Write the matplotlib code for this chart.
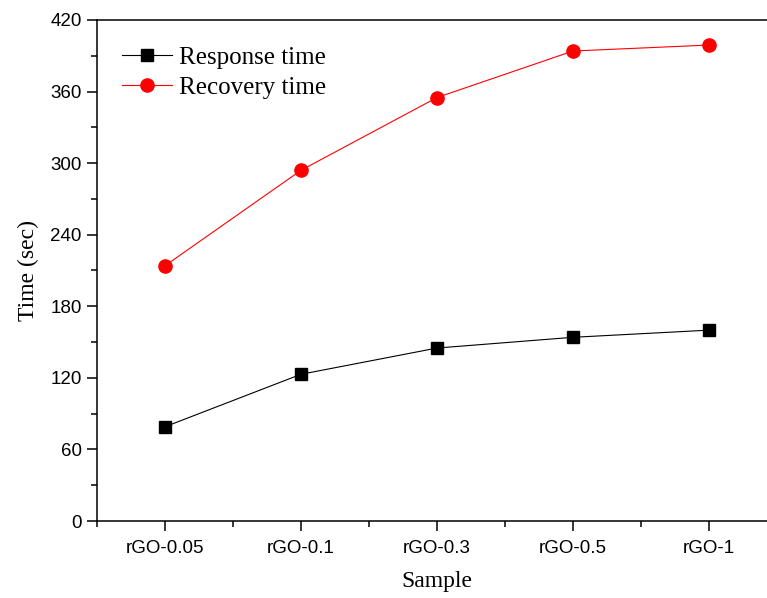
import matplotlib
matplotlib.use('Agg')
import matplotlib.pyplot as plt
from matplotlib.ticker import MultipleLocator

samples = ['rGO-0.05', 'rGO-0.1', 'rGO-0.3', 'rGO-0.5', 'rGO-1']
response_time = [79, 123, 145, 154, 160]
recovery_time = [214, 294, 355, 394, 399]

x = list(range(1, len(samples) + 1))

fig = plt.figure(figsize=(7.67, 5.98), dpi=100)
ax = fig.add_axes([97 / 767, 77 / 598, 680 / 767, 501 / 598])

ax.plot(x, response_time, color='black', lw=0.8, marker='s', ms=8.5,
        label='Response time')
ax.plot(x, recovery_time, color='red', lw=0.8, marker='o', ms=9.5,
        label='Recovery time')

ax.set_xlim(0.5, 5.5)
ax.set_ylim(0, 420)
ax.set_xticks(x)
ax.set_xticklabels(samples)
ax.set_xticks([0.5, 1.5, 2.5, 3.5, 4.5, 5.5], minor=True)
ax.yaxis.set_major_locator(MultipleLocator(60))
ax.yaxis.set_minor_locator(MultipleLocator(30))

for s in ax.spines.values():
    s.set_linewidth(1.1)

ax.tick_params(which='major', direction='out', length=7, width=1.1,
               labelsize=13.5, pad=4)
ax.tick_params(which='minor', direction='out', length=4, width=1.1)
for lab in ax.get_xticklabels() + ax.get_yticklabels():
    lab.set_family('Liberation Sans')
ax.tick_params(axis='x', which='major', pad=7)

ax.set_xlabel('Sample', family='Liberation Serif', fontsize=17, labelpad=10)
ax.set_ylabel('Time (sec)', family='Liberation Serif', fontsize=17, labelpad=8)

ax.legend(loc='upper left', bbox_to_anchor=(0.022, 0.968), frameon=False,
          prop={'family': 'Liberation Serif', 'size': 18},
          handlelength=2.0, handletextpad=0.3, labelspacing=0.3,
          borderaxespad=0)

fig.savefig('out.png', dpi=100)
